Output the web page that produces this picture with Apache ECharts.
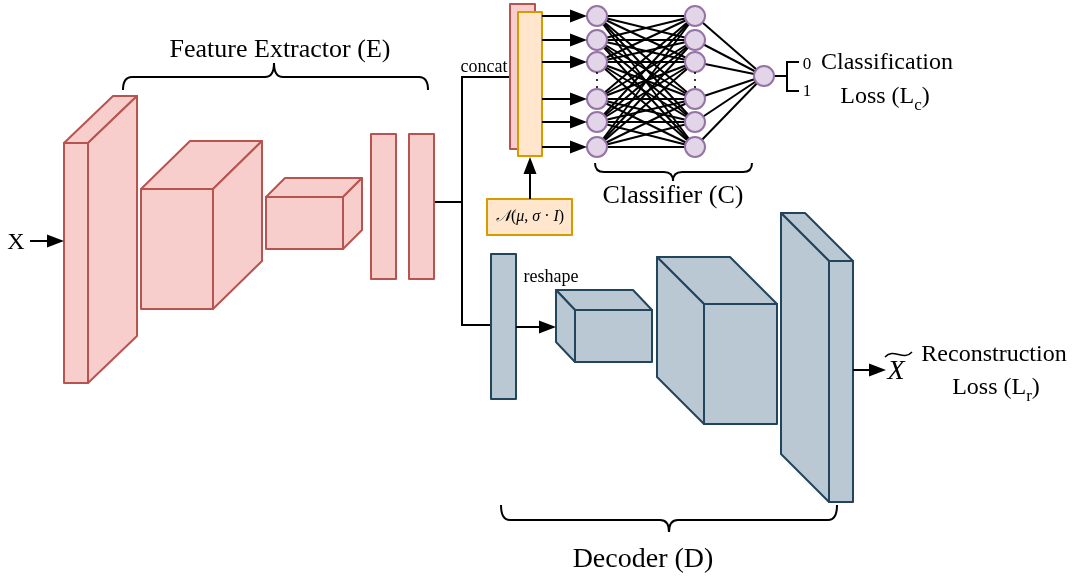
<!DOCTYPE html>
<html><head><meta charset="utf-8">
<script src="https://cdn.jsdelivr.net/npm/echarts@6/dist/echarts.min.js"></script>
<style>html,body{margin:0;padding:0;background:#fff}#c{width:1076px;height:578px}</style>
</head><body><div id="c"></div><script>
// ---------- diagram data (in chart units: x 0..1076, y 0..578 top-down) ----------
// blocks: [x, y, width, height, depthX, depthY]
const encoderBlocks = [
  [64, 143, 24, 240, 49, -47],
  [141, 189, 72, 120, 49, -48],
  [266, 197, 77, 52, 19, -19],
  [371, 134, 25, 145, 0, 0],
  [409, 134, 25, 145, 0, 0]
];
const decoderBlocks = [
  [491, 254, 25, 145, 0, 0],
  [575, 310, 77, 52, -19, -20],
  [704, 304, 73, 120, -47, -47],
  [829, 261, 24, 241, -48, -48]
];
const concatEncoded = [[510, 4, 25, 145, 0, 0]];
const concatNoise = [[518, 12, 24, 144, 0, 0]];
const noiseBox = [[487, 199, 85, 36, 0, 0]];
// classifier nodes
const nodeRows = [16, 40, 62, 99, 122, 147];
const layerX = [597, 695];
const outputNode = [764, 76];
// arrows: [x1, y1, x2, y2]
const arrows = [
  [30, 241, 64, 241],
  [542, 16, 587, 16], [542, 40, 587, 40], [542, 62, 587, 62],
  [542, 99, 587, 99], [542, 122, 587, 122], [542, 147, 587, 147],
  [530, 199, 530, 157],
  [516, 327, 556, 327],
  [853, 370, 886, 370]
];
// plain connector polylines
const connectors = [
  [[434, 202], [462, 202]],
  [[510, 77], [462, 77], [462, 325], [491, 325]],
  [[774, 76], [787, 76]],
  [[799, 62], [787, 62], [787, 91], [799, 91]]
];
// braces: [xStart, xEnd, yEnds, yBar, xTip, yTip]
const braces = [
  [123, 428, 90, 77, 274, 63],
  [595, 752, 163, 172, 673, 181],
  [501, 837, 505, 520, 669, 532]
];
// text labels
const labelTexts = ['Feature Extractor (E)', 'Classifier (C)', 'Decoder (D)', 'Classification', 'Reconstruction', 'X', 'concat', 'reshape', '0', '1'];
const labelAnchors = [[280, 50], [673, 196], [643, 560], [887, 63], [994, 355], [16, 243], [484, 67], [551, 277], [807, 65], [807, 92]];
const labelSizes = [26, 26, 28, 24, 24, 24, 18, 18, 17, 17];
const lossLabels = [['Loss (L', 'c', ')'], ['Loss (L', 'r', ')']];
const lossAnchors = [[885, 97], [996, 388]];

// ---------- styles ----------
const FONT = '"Liberation Serif","Times New Roman",serif';
const ENC = {fill: '#f8cecc', stroke: '#b85450'};
const DEC = {fill: '#bac8d3', stroke: '#23445d'};
const NOISE = {fill: '#ffe6cc', stroke: '#d79b00'};
const NODE = {fill: '#e1d5e7', stroke: '#9673a6'};

function blockSeries(arr, sty, z) {
  return {
    type: 'custom', coordinateSystem: 'cartesian2d', z: z, silent: true,
    data: arr.map(d => [d[0], d[1]]),
    renderItem(params, api) {
      const [x, y, w, h, dx, dy] = arr[params.dataIndex];
      const P = (a, b) => api.coord([a, b]);
      const st = {fill: sty.fill, stroke: sty.stroke, lineWidth: 2, lineJoin: 'round'};
      const ch = [];
      if (dx || dy) {
        ch.push({type: 'polygon', shape: {points: [P(x, y), P(x + w, y), P(x + w + dx, y + dy), P(x + dx, y + dy)]}, style: st});
        const sx = dx > 0 ? x + w : x;
        ch.push({type: 'polygon', shape: {points: [P(sx, y), P(sx + dx, y + dy), P(sx + dx, y + h + dy), P(sx, y + h)]}, style: st});
      }
      const a = P(x, y), b = P(x + w, y + h);
      ch.push({type: 'rect', shape: {x: a[0], y: a[1], width: b[0] - a[0], height: b[1] - a[1]}, style: st});
      return {type: 'group', children: ch};
    }
  };
}

// node list
const nodes = [];
layerX.forEach(x => nodeRows.forEach(y => nodes.push([x, y])));
nodes.push(outputNode);
// edges between layers
const edges = [];
nodeRows.forEach(y1 => nodeRows.forEach(y2 => edges.push([layerX[0], y1, layerX[1], y2])));
nodeRows.forEach(y1 => edges.push([layerX[1], y1, outputNode[0], outputNode[1]]));

const series = [
  // edges
  {
    type: 'custom', coordinateSystem: 'cartesian2d', z: 2, silent: true,
    data: edges.map(e => [e[0], e[1]]),
    renderItem(params, api) {
      const e = edges[params.dataIndex];
      const a = api.coord([e[0], e[1]]), b = api.coord([e[2], e[3]]);
      return {type: 'line', shape: {x1: a[0], y1: a[1], x2: b[0], y2: b[1]}, style: {stroke: '#000', lineWidth: 2}};
    }
  },
  // nodes
  {
    type: 'custom', coordinateSystem: 'cartesian2d', z: 3, silent: true,
    data: nodes,
    renderItem(params, api) {
      const c = api.coord([api.value(0), api.value(1)]);
      return {type: 'circle', shape: {cx: c[0], cy: c[1], r: 10}, style: {fill: NODE.fill, stroke: NODE.stroke, lineWidth: 2}};
    }
  },
  // ellipsis dots
  {
    type: 'custom', coordinateSystem: 'cartesian2d', z: 3, silent: true,
    data: layerX.map(x => [x, 80]),
    renderItem(params, api) {
      const x = api.value(0);
      const ch = [73, 80, 87].map(y => {
        const c = api.coord([x, y]);
        return {type: 'circle', shape: {cx: c[0], cy: c[1], r: 1.1}, style: {fill: '#000'}};
      });
      return {type: 'group', children: ch};
    }
  },
  blockSeries(encoderBlocks, ENC, 4),
  blockSeries(decoderBlocks, DEC, 4),
  blockSeries(concatEncoded, ENC, 4),
  blockSeries(concatNoise, NOISE, 5),
  blockSeries(noiseBox, NOISE, 5),
  // connectors
  {
    type: 'custom', coordinateSystem: 'cartesian2d', z: 1, silent: true,
    data: connectors.map(c => c[0]),
    renderItem(params, api) {
      const pts = connectors[params.dataIndex].map(p => api.coord(p));
      return {type: 'polyline', shape: {points: pts}, style: {stroke: '#000', lineWidth: 2, fill: null}};
    }
  },
  // arrows
  {
    type: 'custom', coordinateSystem: 'cartesian2d', z: 6, silent: true,
    data: arrows.map(a => [a[0], a[1]]),
    renderItem(params, api) {
      const d = arrows[params.dataIndex];
      const a = api.coord([d[0], d[1]]), b = api.coord([d[2], d[3]]);
      const len = Math.hypot(b[0] - a[0], b[1] - a[1]);
      const ux = (b[0] - a[0]) / len, uy = (b[1] - a[1]) / len;
      const L = 17, W = 6.5;
      const bx = b[0] - ux * L, by = b[1] - uy * L;
      return {type: 'group', children: [
        {type: 'line', shape: {x1: a[0], y1: a[1], x2: bx + ux * 2, y2: by + uy * 2}, style: {stroke: '#000', lineWidth: 2}},
        {type: 'polygon', shape: {points: [[b[0], b[1]], [bx - uy * W, by + ux * W], [bx + uy * W, by - ux * W]]}, style: {fill: '#000'}}
      ]};
    }
  },
  // braces
  {
    type: 'custom', coordinateSystem: 'cartesian2d', z: 6, silent: true,
    data: braces.map(b => [b[0], b[2]]),
    renderItem(params, api) {
      const [x1, x2, ye, yb, xt, yt] = braces[params.dataIndex];
      const P = (a, b) => api.coord([a, b]);
      const r = 9;
      const s = P(x1, ye), c1 = P(x1, yb), p1 = P(x1 + r, yb), p2 = P(xt - r, yb), c2 = P(xt, yb), t = P(xt, yt),
            p3 = P(xt + r, yb), p4 = P(x2 - r, yb), c3 = P(x2, yb), e = P(x2, ye);
      const d = `M${s[0]} ${s[1]} Q${c1[0]} ${c1[1]} ${p1[0]} ${p1[1]} L${p2[0]} ${p2[1]} Q${c2[0]} ${c2[1]} ${t[0]} ${t[1]} ` +
                `Q${c2[0]} ${c2[1]} ${p3[0]} ${p3[1]} L${p4[0]} ${p4[1]} Q${c3[0]} ${c3[1]} ${e[0]} ${e[1]}`;
      return {type: 'path', shape: {pathData: d}, style: {stroke: '#000', lineWidth: 2, fill: null}};
    }
  },
  // labels
  {
    type: 'custom', coordinateSystem: 'cartesian2d', z: 7, silent: true,
    data: labelAnchors,
    renderItem(params, api) {
      const i = params.dataIndex;
      const c = api.coord(labelAnchors[i]);
      return {type: 'text', x: c[0], y: c[1], style: {text: labelTexts[i], fontFamily: FONT, fontSize: labelSizes[i], fill: '#000', align: 'center', verticalAlign: 'middle'}};
    }
  },
  // loss labels with subscripts
  {
    type: 'custom', coordinateSystem: 'cartesian2d', z: 7, silent: true,
    data: lossAnchors,
    renderItem(params, api) {
      const i = params.dataIndex;
      const c = api.coord(lossAnchors[i]);
      const p = lossLabels[i];
      return {type: 'text', x: c[0], y: c[1], style: {
        text: `{a|${p[0]}}{s|${p[1]}}{a|${p[2]}}`, align: 'center', verticalAlign: 'middle', fill: '#000',
        rich: {
          a: {fontFamily: FONT, fontSize: 24, lineHeight: 34, fill: '#000'},
          s: {fontFamily: FONT, fontSize: 17, verticalAlign: 'bottom', fill: '#000'}
        }
      }};
    }
  },
  // noise distribution label and X-tilde
  {
    type: 'custom', coordinateSystem: 'cartesian2d', z: 7, silent: true,
    data: [[530, 217], [896, 372]],
    renderItem(params, api) {
      const c = api.coord([api.value(0), api.value(1)]);
      if (params.dataIndex === 0) {
        return {type: 'text', x: c[0], y: c[1], style: {
          text: '{n|𝒩}{a|(}{i|μ}{a|, }{i|σ}{a| · }{i|I}{a|)}', align: 'center', verticalAlign: 'middle',
          rich: {
            n: {fontFamily: FONT, fontSize: 16, fill: '#000', fontStyle: 'italic'},
            a: {fontFamily: FONT, fontSize: 16, fill: '#000'},
            i: {fontFamily: FONT, fontSize: 16, fill: '#000', fontStyle: 'italic'}
          }
        }};
      }
      const t1 = api.coord([885, 357]), k1 = api.coord([894, 347]), k2 = api.coord([903, 362]), t2 = api.coord([912, 352]);
      return {type: 'group', children: [
        {type: 'text', x: c[0], y: c[1], style: {text: 'X', fontFamily: FONT, fontSize: 28, fontStyle: 'italic', fill: '#000', align: 'center', verticalAlign: 'middle'}},
        {type: 'path', shape: {pathData: `M${t1[0]} ${t1[1]} C${k1[0]} ${k1[1]} ${k2[0]} ${k2[1]} ${t2[0]} ${t2[1]}`}, style: {stroke: '#000', lineWidth: 1.5, fill: null}}
      ]};
    }
  }
];

const chart = echarts.init(document.getElementById('c'), null, {renderer: 'canvas'});
chart.setOption({
  animation: false,
  backgroundColor: '#fff',
  grid: {left: 0, right: 0, top: 0, bottom: 0},
  xAxis: {type: 'value', min: 0, max: 1076, show: false},
  yAxis: {type: 'value', min: 0, max: 578, inverse: true, show: false},
  series: series
});
</script></body></html>
